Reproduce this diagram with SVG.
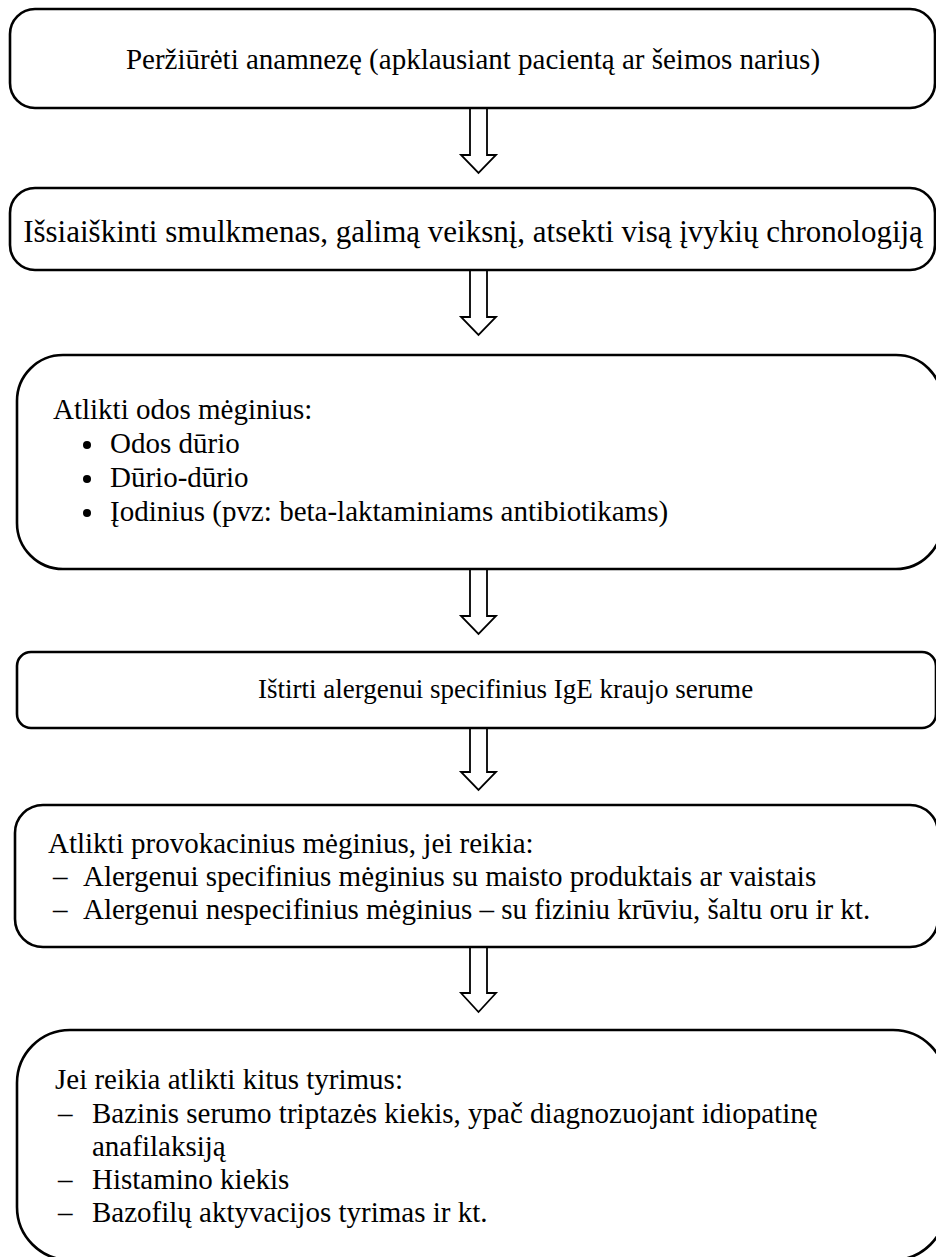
<svg xmlns="http://www.w3.org/2000/svg" width="936" height="1257" viewBox="0 0 936 1257">
<style>
.box{fill:#fff;stroke:#000;stroke-width:2.6}
.arr{fill:#fff;stroke:#000;stroke-width:1.8;stroke-linejoin:miter}
text{font-family:"Liberation Serif","Times New Roman",serif;font-size:29px;fill:#000}
</style>
<rect width="936" height="1257" fill="#fff"/>
<g id="connectors">
<path class="arr" d="M470,108 V155 H461 L478.5,173 L496,155 H487 V108"/>
<path class="arr" d="M470,270 V317 H461 L478.5,335 L496,317 H487 V270"/>
<path class="arr" d="M470,569 V616 H461 L478.5,634 L496,616 H487 V569"/>
<path class="arr" d="M470,728 V772 H461 L478.5,790 L496,772 H487 V728"/>
<path class="arr" d="M470,947 V993 H461 L478.5,1012 L496,993 H487 V947"/>
</g>
<g id="n1">
<rect class="box" x="10" y="9" width="925" height="99" rx="25"/>
<text x="473" y="69" text-anchor="middle">Peržiūrėti anamnezę (apklausiant pacientą ar šeimos narius)</text>
</g>
<g id="n2">
<rect class="box" x="10" y="188" width="925" height="82" rx="25"/>
<text x="473" y="242" text-anchor="middle" style="font-size:31px">Išsiaiškinti smulkmenas, galimą veiksnį, atsekti visą įvykių chronologiją</text>
</g>
<g id="n3">
<rect class="box" x="17" y="355" width="925" height="214" rx="46"/>
<text x="53" y="419">Atlikti odos mėginius:</text>
<circle cx="87" cy="445" r="4"/>
<text x="110" y="453">Odos dūrio</text>
<circle cx="87" cy="479" r="4"/>
<text x="110" y="487">Dūrio-dūrio</text>
<circle cx="87" cy="513" r="4"/>
<text x="110" y="521">Įodinius (pvz: beta-laktaminiams antibiotikams)</text>
</g>
<g id="n4">
<rect class="box" x="17" y="652" width="919" height="76" rx="14"/>
<text x="258" y="698" style="font-size:27px">Ištirti alergenui specifinius IgE kraujo serume</text>
</g>
<g id="n5">
<rect class="box" x="15" y="805" width="923" height="142" rx="28"/>
<text x="48" y="853">Atlikti provokacinius mėginius, jei reikia:</text>
<text x="53" y="886">–</text>
<text x="83" y="886">Alergenui specifinius mėginius su maisto produktais ar vaistais</text>
<text x="53" y="919">–</text>
<text x="83" y="919">Alergenui nespecifinius mėginius – su fiziniu krūviu, šaltu oru ir kt.</text>
</g>
<g id="n6">
<rect class="box" x="17" y="1030" width="929" height="230" rx="53"/>
<text x="55" y="1089">Jei reikia atlikti kitus tyrimus:</text>
<text x="58" y="1123">–</text>
<text x="92" y="1123">Bazinis serumo triptazės kiekis, ypač diagnozuojant idiopatinę</text>
<text x="92" y="1156">anafilaksiją</text>
<text x="58" y="1189">–</text>
<text x="92" y="1189">Histamino kiekis</text>
<text x="58" y="1222">–</text>
<text x="92" y="1222">Bazofilų aktyvacijos tyrimas ir kt.</text>
</g>
</svg>
